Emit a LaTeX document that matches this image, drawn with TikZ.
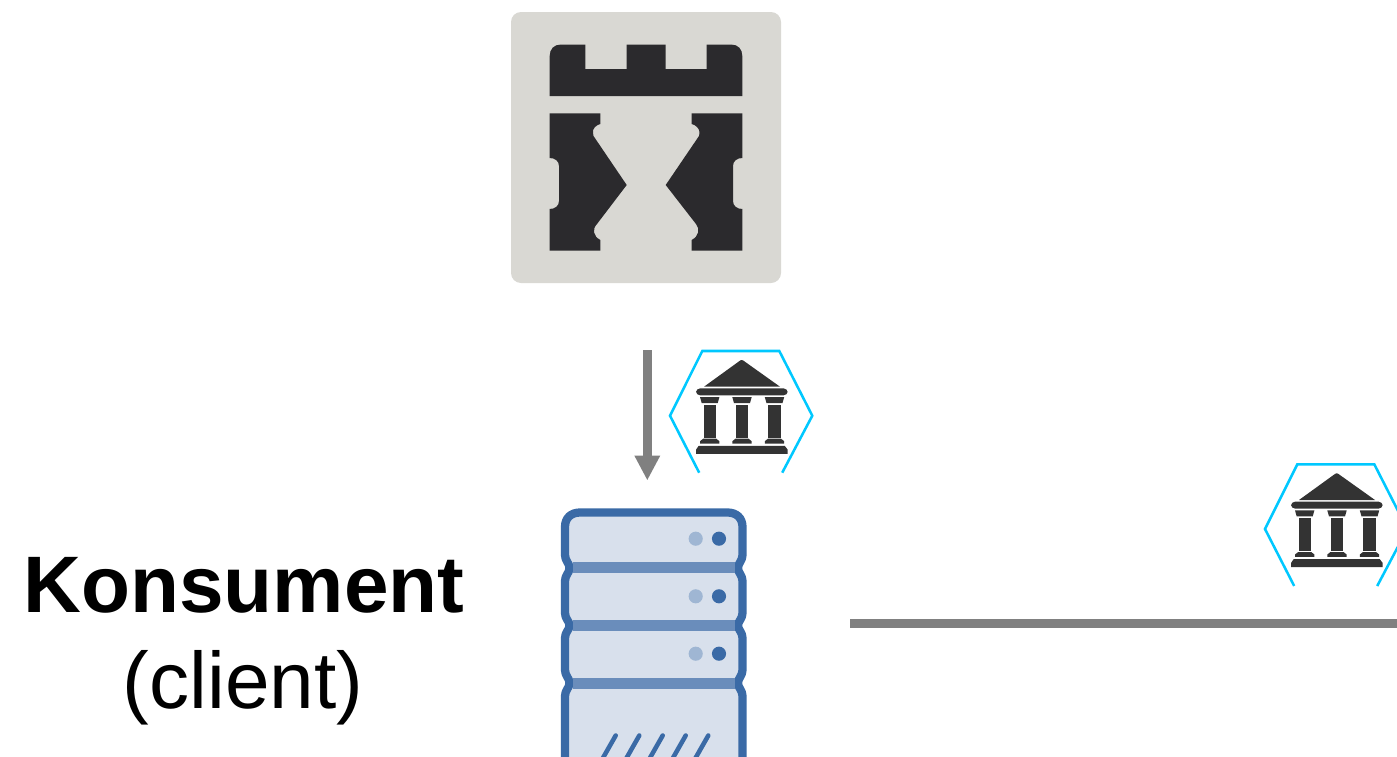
\documentclass[tikz,border=0pt]{standalone}
\usepackage{fontspec}
\setmainfont{Liberation Sans}
\usetikzlibrary{arrows.meta}
\definecolor{towerbg}{HTML}{D9D8D3}
\definecolor{towerdark}{HTML}{2B2A2D}
\definecolor{bankdark}{HTML}{333333}
\definecolor{hexcyan}{HTML}{00C8FF}
\definecolor{wiregray}{HTML}{808080}
\definecolor{srvfill}{HTML}{D8E0EC}
\definecolor{srvdark}{HTML}{3A6AA6}
\definecolor{srvband}{HTML}{6A8DBB}
\definecolor{srvlight}{HTML}{9FB6D3}
\tikzset{
  x=0.75pt,y=-0.75pt,
  towerpart/.style={fill=towerdark,draw=none},
  bankpart/.style={fill=bankdark,draw=none},
  hexline/.style={draw=hexcyan,line width=1.9pt,line join=miter},
  wire/.style={draw=wiregray,line width=6.4pt},
  srvslash/.style={draw=srvdark,line width=3.4pt,line cap=round},
  bigtext/.style={font=\fontsize{60.1pt}{61pt}\selectfont,anchor=base,inner sep=0pt,text=black},
  bankicon/.pic={
    \draw[hexline] (-42.5,57)--(-71.7,0)--(-39.4,-64.7)--(37.6,-64.7)--(70.6,0)--(40.5,57);
    \fill[bankpart] (0,-55.7) -- (1.5,-55.2) -- (38.3,-29) -- (-37.7,-29) -- (-1.5,-55.2) -- cycle;
    \fill[bankpart,rounded corners=3pt] (-45.7,-27.3) rectangle (46,-20.4);
    \foreach \c in {-32,0.3,32.8}{
      \fill[bankpart] (\c-9.7,-18.6) -- (\c+9.7,-18.6) -- (\c+8,-12.6) -- (\c-8,-12.6) -- cycle;
      \fill[bankpart] (\c-6.2,-11.2) rectangle (\c+6.2,21.8);
      \fill[bankpart] (\c-6.5,23) -- (\c+6.5,23) -- (\c+9.7,25.5) -- (\c+9.7,27.8) -- (\c-9.7,27.8) -- (\c-9.7,25.5) -- cycle;
    }
    \fill[bankpart] (-43,30.1) -- (43,30.1) -- (46,34) -- (46,38.2) -- (-45.7,38.2) -- (-45.7,34) -- cycle;
  }
}
\begin{document}
\begin{tikzpicture}
\useasboundingbox (0,0) rectangle (1397,757);
\clip (0,0) rectangle (1397,757);
\fill[white] (0,0) rectangle (1397,757);
% tower tile
\fill[towerbg,rounded corners=7.5pt] (511,12) rectangle (781,283);
\fill[towerpart] (549.7,96) -- (549.7,56) .. controls (549.7,49) and (554,44.5) .. (561,44.5)
  -- (585.3,44.5) -- (585.3,69) -- (626.7,69) -- (626.7,44.5) -- (665.7,44.5) -- (665.7,69)
  -- (706.7,69) -- (706.7,44.5) -- (731,44.5) .. controls (738,44.5) and (742.3,49) .. (742.3,56)
  -- (742.3,96) -- cycle;
\fill[towerpart] (549.7,113.3) -- (600.3,113.3) -- (600.3,124)
  .. controls (596,125) and (592,129) .. (593,133) -- (593.5,136) -- (626.7,185) -- (597,224)
  .. controls (592,229) and (593,236) .. (600.3,240) -- (600.3,250.7) -- (549.7,250.7)
  -- (549.7,209) .. controls (555,209) and (559,206) .. (559,201) -- (559,166)
  .. controls (559,161) and (555,158) .. (549.7,158) -- cycle;
\fill[towerpart] (742.3,113.3) -- (691.7,113.3) -- (691.7,124)
  .. controls (696,125) and (700,129) .. (699.5,133) -- (699,136) -- (665.7,185) -- (696,224)
  .. controls (700,229) and (699,236) .. (691.7,240) -- (691.7,250.7) -- (742.3,250.7)
  -- (742.3,209) .. controls (737,209) and (733,206) .. (733,201) -- (733,166)
  .. controls (733,161) and (737,158) .. (742.3,158) -- cycle;
% connectors
\coordinate (arrowtop) at (647.3,350);
\coordinate (arrowtip) at (647.3,480.5);
\draw[wire,-{Triangle[length=18.7pt,width=18pt]}] (arrowtop) -- (arrowtip);
\coordinate (linestart) at (850,623.3);
\coordinate (lineend) at (1397,623.3);
\draw[wire] (linestart) -- (lineend);
% bank icons
\pic (bankA) at (741.7,415.7) {bankicon};
\pic (bankB) at (1336.7,529) {bankicon};
% server
\draw[fill=srvfill,draw=srvdark,line width=6.2pt,line join=round]
  (580,512.5) .. controls (571,512.5) and (565,518) .. (565,527) -- (565,555)
  .. controls (565,561) and (569.5,563) .. (569.5,568) .. controls (569.5,573) and (565,575) .. (565,581)
  -- (565,613) .. controls (565,619) and (569.5,621) .. (569.5,625.5) .. controls (569.5,630) and (565,632) .. (565,638)
  -- (565,670) .. controls (565,676) and (569.5,678) .. (569.5,683) .. controls (569.5,688) and (565,690) .. (565,696)
  -- (565,790) -- (742.5,790) -- (742.5,696)
  .. controls (742.5,690) and (738,688) .. (738,683) .. controls (738,678) and (742.5,676) .. (742.5,670)
  -- (742.5,638) .. controls (742.5,632) and (738,630) .. (738,625.5) .. controls (738,621) and (742.5,619) .. (742.5,613)
  -- (742.5,581) .. controls (742.5,575) and (738,573) .. (738,568) .. controls (738,563) and (742.5,561) .. (742.5,555)
  -- (742.5,527) .. controls (742.5,518) and (736.5,512.5) .. (727.5,512.5) -- cycle;
\foreach \yy in {567.8,625.4,683}{
  \fill[srvband] (573,\yy-5.5) rectangle (734.5,\yy+5.5);
}
\foreach \yy in {538.7,596.3,653.7}{
  \fill[srvlight] (695.7,\yy) circle[radius=5.3pt];
  \fill[srvdark] (719,\yy) circle[radius=5.3pt];
}
\foreach \xx in {615.7,639.3,662.7,685.7,708.3}{
  \draw[srvslash] (\xx,735.5) -- (\xx-27,783);
}
% labels
\node[bigtext] (konsument) at (244,612) {\textbf{Konsument}};
\node[bigtext] (client) at (243,708) {(client)};
\end{tikzpicture}
\end{document}
